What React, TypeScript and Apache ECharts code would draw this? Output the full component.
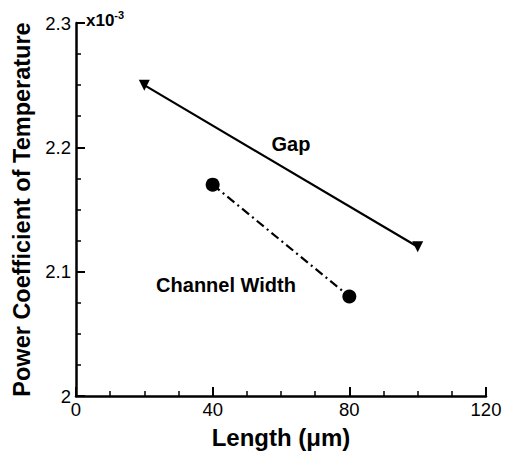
import React, { useEffect, useRef } from "react";
import * as echarts from "echarts";

const gapX = [20, 100];
const gapY = [2.25, 2.12];
const widthX = [40, 80];
const widthY = [2.17, 2.08];
const xTicks = [0, 40, 80, 120];
const yTicks = [2, 2.1, 2.2, 2.3];

const FONT = "Liberation Sans, Arial, sans-serif";

export default function App() {
  const ref = useRef<HTMLDivElement>(null);
  useEffect(() => {
    const chart = echarts.init(ref.current!, null, { renderer: "svg" });
    const axisCommon = {
      axisLine: { show: true, lineStyle: { color: "#000", width: 2.5 } },
      axisTick: { show: true, inside: true, length: 9, lineStyle: { color: "#000", width: 2 } },
      minorTick: { show: true, splitNumber: 4, length: 5, lineStyle: { color: "#000", width: 1.5 } },
      splitLine: { show: false },
      axisLabel: { color: "#000", fontSize: 18.5, fontFamily: FONT },
      nameTextStyle: { color: "#000", fontSize: 24, fontWeight: "bold", fontFamily: FONT },
    };
    chart.setOption({
      animation: false,
      backgroundColor: "#fff",
      grid: { left: 76, right: 26, top: 23, bottom: 56, containLabel: false },
      xAxis: {
        type: "value",
        min: xTicks[0],
        max: xTicks[xTicks.length - 1],
        interval: 40,
        name: "Length (μm)",
        nameLocation: "middle",
        nameGap: 29,
        ...axisCommon,
        axisLabel: { ...axisCommon.axisLabel, margin: 4 },
      },
      yAxis: {
        type: "value",
        min: yTicks[0],
        max: yTicks[yTicks.length - 1],
        interval: 0.1,
        name: "Power Coefficient of Temperature",
        nameLocation: "middle",
        nameGap: 41,
        ...axisCommon,
        nameTextStyle: { ...axisCommon.nameTextStyle, fontSize: 23.5 },
        axisLabel: {
          ...axisCommon.axisLabel,
          margin: 5,
          formatter: (v: number) => (Math.abs(v - 2) < 1e-9 ? "2" : v.toFixed(1)),
        },
      },
      graphic: [
        {
          type: "text",
          left: 86,
          top: 9,
          style: {
            text: "{a|x10}{b|-3}",
            rich: {
              a: { fontSize: 17, fontWeight: "bold", fontFamily: FONT, fill: "#000", verticalAlign: "bottom" },
              b: { fontSize: 11, fontWeight: "bold", fontFamily: FONT, fill: "#000", verticalAlign: "top", padding: [0, 0, 9, 0] },
            },
          },
        },
        {
          type: "text",
          x: 291,
          y: 144,
          style: { text: "Gap", fontSize: 20, fontWeight: "bold", fontFamily: FONT, fill: "#000", align: "center", verticalAlign: "middle" },
        },
        {
          type: "text",
          x: 226,
          y: 285,
          style: { text: "Channel Width", fontSize: 20, fontWeight: "bold", fontFamily: FONT, fill: "#000", align: "center", verticalAlign: "middle" },
        },
      ],
      series: [
        {
          name: "Gap",
          type: "line",
          data: gapX.map((x, i) => [x, gapY[i]]),
          symbol: "triangle",
          symbolRotate: 180,
          symbolSize: 11,
          itemStyle: { color: "#000" },
          lineStyle: { color: "#000", width: 2.2 },
        },
        {
          name: "Channel Width",
          type: "line",
          data: widthX.map((x, i) => [x, widthY[i]]),
          symbol: "circle",
          symbolSize: 14,
          itemStyle: { color: "#000" },
          lineStyle: { color: "#000", width: 2.2, type: [9, 4, 2, 4] },
        },
      ],
    });
    return () => chart.dispose();
  }, []);
  return <div ref={ref} style={{ width: 512, height: 454, position: "absolute", left: 0, top: 0 }} />;
}
